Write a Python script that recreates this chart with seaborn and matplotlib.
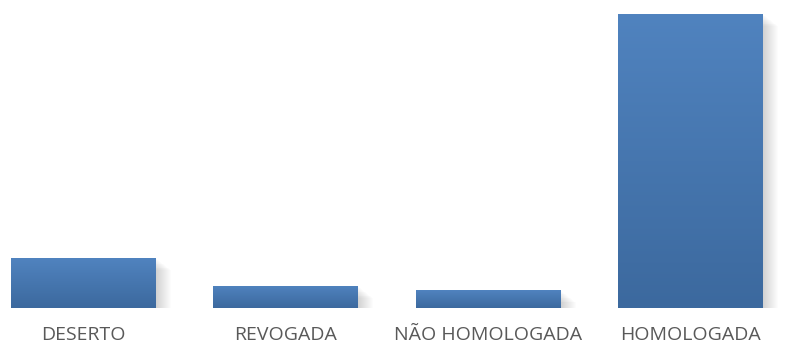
import numpy as np
import pandas as pd
import matplotlib
matplotlib.use("Agg")
import matplotlib.pyplot as plt
import seaborn as sns
from matplotlib.patches import Rectangle

categories = ["DESERTO", "REVOGADA", "NÃO HOMOLOGADA", "HOMOLOGADA"]
values = [34, 15, 12, 200]

df = pd.DataFrame({"cat": categories, "val": values})

sns.set_style("white")
plt.rcParams["font.family"] = ["Open Sans", "DejaVu Sans"]

W, H = 787, 347
fig = plt.figure(figsize=(W / 100, H / 100), dpi=100)
# axes: bottom at 308px, value 200 at 14px
ax = fig.add_axes([0, (H - 308) / H, 1, 294 / H])

sns.barplot(data=df, x="cat", y="val", color="#4A7EBB", width=0.716,
            saturation=1, ax=ax, zorder=3, linewidth=0, edgecolor="none")

step = 202.33
for s in ax.spines.values():
    s.set_visible(False)
ax.set_yticks([])
ax.set_xlabel("")
ax.set_ylabel("")
ax.tick_params(axis="x", length=0, labelbottom=False)

for i, c in enumerate(categories):
    ax.text(i, -(340 - 308) / 294, c, transform=ax.get_xaxis_transform(),
            ha="center", va="baseline", fontsize=14.0, color="#595959")

px_x = 1 / step
px_y = 200 / 294
top = np.array([0x50, 0x83, 0xBF]) / 255
bot = np.array([0x3C, 0x69, 0x9E]) / 255
grad = np.linspace(0, 1, 256)[:, None]
for p in ax.patches:
    x, w, h = p.get_x(), p.get_width(), p.get_height()
    # soft shadow
    for k in range(1, 16):
        ax.add_patch(Rectangle((x, 0), w + k * px_x, max(h - k * 0.8 * px_y, 0),
                               facecolor="#000000", alpha=0.012, edgecolor="none",
                               zorder=2))
    img = top[None, None, :] * (1 - grad[:, :, None]) + bot[None, None, :] * grad[:, :, None]
    img = np.repeat(img, 2, axis=1)
    im = ax.imshow(img, extent=[x, x + w, 0, h], origin="upper", aspect="auto",
                   zorder=4, interpolation="bilinear")
    im.set_clip_path(p)

ax.set_xlim(-83.5 / step, (W - 83.5) / step)
ax.set_ylim(0, 200)
fig.savefig("out.png", dpi=100)
